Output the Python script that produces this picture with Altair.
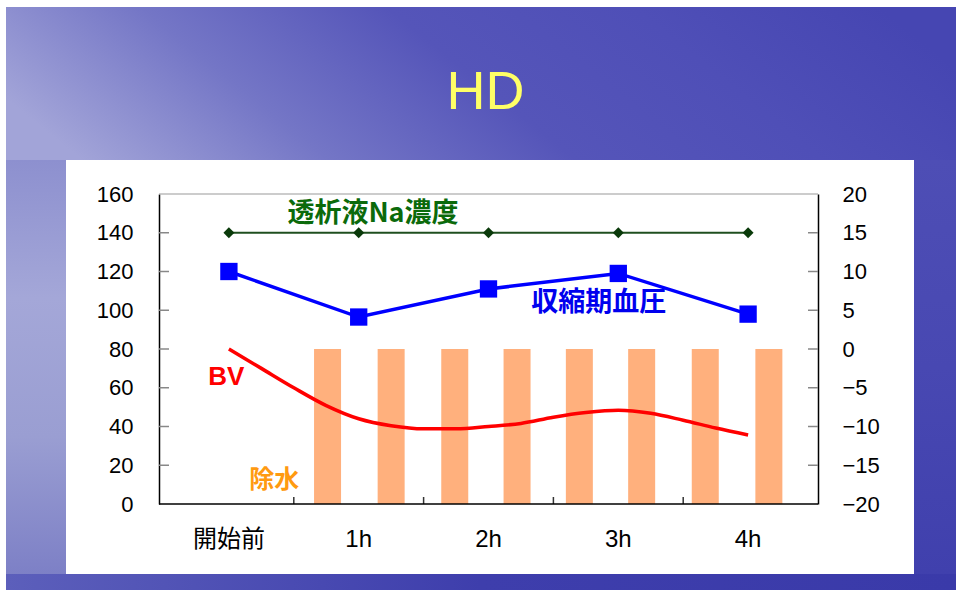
import altair as alt
import pandas as pd

# ---- data ----
categories = ["開始前", "1h", "2h", "3h", "4h"]
time_index = [0, 1, 2, 3, 4]
na_values = [140, 140, 140, 140, 140]          # 透析液Na濃度 (left axis)
bp_values = [120, 96.5, 111, 119, 98]          # 収縮期血圧 (left axis)
bv_time = [0, 0.25, 0.5, 0.75, 1.0, 1.25, 1.5, 1.75, 2.0, 2.25, 2.5,
           2.75, 3.0, 3.25, 3.5, 3.75, 4.0]
bv_values = [0, -2.5, -5.0, -7.3, -9.0, -9.9, -10.3, -10.3, -10.0, -9.6,
             -8.8, -8.2, -7.9, -8.3, -9.2, -10.2, -11.1]   # BV (right axis)
uf_time = [0.76, 1.25, 1.74, 2.22, 2.70, 3.18, 3.67, 4.16]
uf_values = [80, 80, 80, 80, 80, 80, 80, 80]   # 除水 bars (left axis)
left_tick_values = [0, 20, 40, 60, 80, 100, 120, 140, 160]
right_tick_values = [-20, -15, -10, -5, 0, 5, 10, 15, 20]
boundary_values = [0.5, 1.5, 2.5, 3.5]

W, H = 659, 310
LATIN = "Liberation Sans"
CJK = "Noto Sans CJK JP"

xs = alt.Scale(domain=[-0.5, 4.5], nice=False, zero=False)
yl = alt.Scale(domain=[0, 160], nice=False, zero=False)
yr = alt.Scale(domain=[-20, 20], nice=False, zero=False)

one = pd.DataFrame({"a": [0]})


def grad(colors, x1, y1, x2, y2):
    n = len(colors) - 1
    return alt.Gradient(
        gradient="linear",
        stops=[alt.GradientStop(offset=i / n, color=c) for i, c in enumerate(colors)],
        x1=x1, y1=y1, x2=x2, y2=y2)


def strip(colors, x1, y1, x2, y2, px0, px1, py0, py1):
    return alt.Chart(one).mark_rect(color=grad(colors, x1, y1, x2, y2)).encode(
        x=alt.value(px0), x2=alt.value(px1), y=alt.value(py0), y2=alt.value(py1))


bg_top = strip(["#a2a4d8", "#7476c6", "#5555b9", "#4f4fb7", "#4646b2"],
               0, 0.6, 1, 0.4, -153, 797, -187, -34)
bg_left = strip(["#8d90cf", "#a4a7d8", "#9a9ed2", "#7d80c6"],
                0, 0, 0, 1, -153, -93, -34, 380)
bg_right = strip(["#4e4eb5", "#4848b2", "#4040ad"],
                 0, 0, 0, 1, 755, 797, -34, 380)
bg_bottom = strip(["#5c5fbb", "#3e3eac", "#3a3aa9"],
                  0, 0, 1, 0, -153, 797, 380, 396)

top_border = alt.Chart(one).mark_rule(color="#999999", strokeWidth=1.2).encode(
    x=alt.value(0), x2=alt.value(W), y=alt.value(0))
bottom_domain = alt.Chart(one).mark_rule(color="#000000", strokeWidth=1.5).encode(
    x=alt.value(0), x2=alt.value(W), y=alt.value(H))

yl_axis = alt.Axis(values=left_tick_values, ticks=False, grid=False,
                   domainColor="#000000", domainWidth=1.5, labelFont=LATIN,
                   labelFontSize=22, labelColor="#000000", labelPadding=26,
                   title=None)
yr_axis = alt.Axis(orient="right", values=right_tick_values, format="d",
                   ticks=False, grid=False, domainColor="#000000",
                   domainWidth=1.5, labelFont=LATIN, labelFontSize=22,
                   labelColor="#000000", labelPadding=24, title=None)

uf_df = pd.DataFrame({"t": uf_time, "v": uf_values})
bars = alt.Chart(uf_df).mark_bar(size=27, color="#FFB07D", orient="vertical").encode(
    x=alt.X("t:Q", scale=xs, axis=None),
    y=alt.Y("v:Q", scale=yl, axis=yl_axis),
)

# category labels under the x axis, placed through the x scale
cat_df = pd.DataFrame({"t": time_index, "c": categories})
cat_first = alt.Chart(cat_df).transform_filter("datum.t == 0").mark_text(
    font=CJK, fontSize=24, color="#000000", baseline="middle", align="center"
).encode(x=alt.X("t:Q", scale=xs, axis=None), y=alt.value(H + 36), text="c:N")
cat_rest = alt.Chart(cat_df).transform_filter("datum.t > 0").mark_text(
    font=LATIN, fontSize=24, color="#000000", baseline="middle", align="center"
).encode(x=alt.X("t:Q", scale=xs, axis=None), y=alt.value(H + 36), text="c:N")

lt_df = pd.DataFrame({"v": left_tick_values[1:-1]})
left_ticks = alt.Chart(lt_df).mark_rule(color="#888888", strokeWidth=1.5).encode(
    y=alt.Y("v:Q", scale=yl, axis=None), x=alt.value(0), x2=alt.value(10))

bt_df = pd.DataFrame({"t": boundary_values})
bottom_ticks = alt.Chart(bt_df).mark_rule(color="#333333", strokeWidth=1.5).encode(
    x=alt.X("t:Q", scale=xs, axis=None), y=alt.value(H), y2=alt.value(H - 7))

na_df = pd.DataFrame({"t": time_index, "v": na_values})
na_line = alt.Chart(na_df).mark_line(color="#1f4f1f", strokeWidth=2).encode(
    x=alt.X("t:Q", scale=xs, axis=None), y=alt.Y("v:Q", scale=yl, axis=None))
na_pts = alt.Chart(na_df).mark_point(shape="diamond", filled=True, size=120,
                                     color="#0a3a0a", opacity=1).encode(
    x=alt.X("t:Q", scale=xs, axis=None), y=alt.Y("v:Q", scale=yl, axis=None))

bp_df = pd.DataFrame({"t": time_index, "v": bp_values})
bp_line = alt.Chart(bp_df).mark_line(color="#0000FF", strokeWidth=3.5).encode(
    x=alt.X("t:Q", scale=xs, axis=None), y=alt.Y("v:Q", scale=yl, axis=None))
bp_pts = alt.Chart(bp_df).mark_point(shape="square", filled=True, size=300,
                                     color="#0000FF", opacity=1).encode(
    x=alt.X("t:Q", scale=xs, axis=None), y=alt.Y("v:Q", scale=yl, axis=None))


def label(text, x, y, color, size, font):
    return alt.Chart(one).mark_text(text=text, color=color, fontSize=size,
                                    font=font, fontWeight="bold",
                                    baseline="middle", align="center").encode(
        x=alt.XDatum(x, scale=xs, axis=None),
        y=alt.YDatum(y, scale=yl, axis=None))


t_na = label("透析液Na濃度", 1.11, 149.5, "#0b6a0b", 27, CJK)
t_bp = label("収縮期血圧", 2.85, 104, "#0000EE", 27, CJK)
t_bv = label("BV", -0.02, 65.5, "#FF0000", 26, LATIN)
t_uf = label("除水", 0.35, 12.5, "#FF9A10", 25, CJK)

title = alt.Chart(one).mark_text(text="HD", color="#FFFF66", fontSize=54,
                                 font=LATIN, baseline="middle", align="center").encode(
    x=alt.value(326.5), y=alt.value(-101))

bv_df = pd.DataFrame({"t": bv_time, "v": bv_values})
bv_line = alt.Chart(bv_df).mark_line(color="#FF0000", strokeWidth=3.5,
                                     interpolate="monotone").encode(
    x=alt.X("t:Q", scale=xs, axis=None),
    y=alt.Y("v:Q", scale=yr, axis=yr_axis))

rt_df = pd.DataFrame({"v": right_tick_values[1:-1]})
right_ticks = alt.Chart(rt_df).mark_rule(color="#888888", strokeWidth=1.5).encode(
    y=alt.Y("v:Q", scale=yr, axis=None), x=alt.value(W - 10), x2=alt.value(W))

chart = alt.layer(
    bg_top, bg_left, bg_right, bg_bottom, top_border, bars,
    left_ticks, bottom_ticks, na_line, na_pts, bp_line, bp_pts,
    t_na, t_bp, t_bv, t_uf, title, cat_first, cat_rest, bottom_domain,
    bv_line, right_ticks
).resolve_scale(
    y="independent"
).properties(
    width=W, height=H, autosize="none",
    padding={"left": 159, "top": 194, "right": 138, "bottom": 86},
    background="white",
).configure_view(stroke=None)

chart.save("out.html", embed_options={"renderer": "svg", "actions": False})
